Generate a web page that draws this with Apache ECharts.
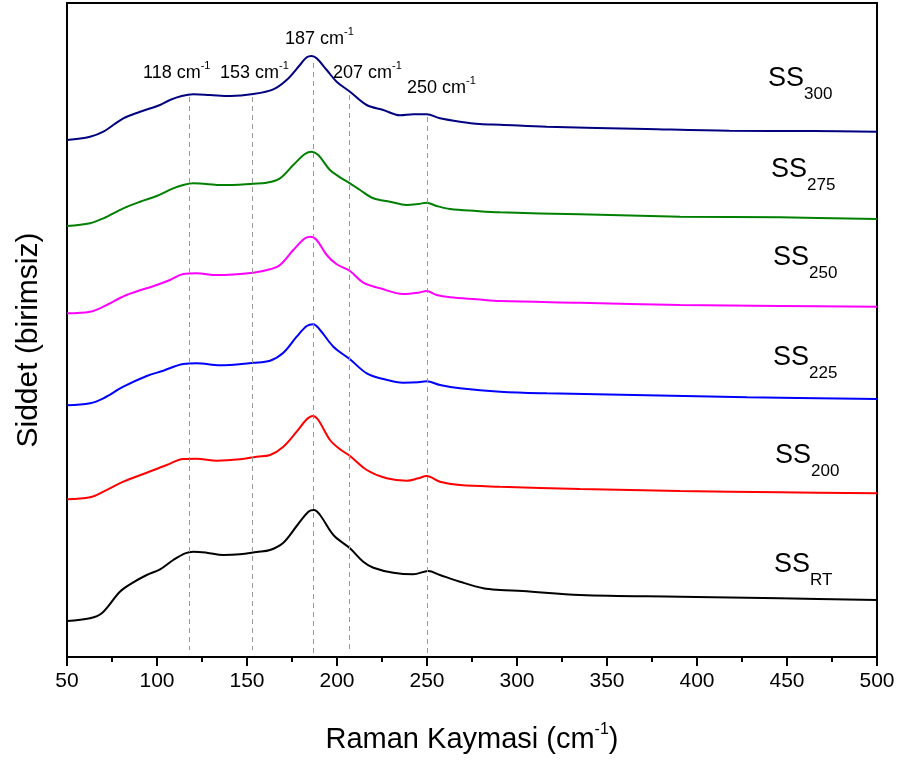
<!DOCTYPE html>
<html>
<head>
<meta charset="utf-8">
<title>Raman</title>
<script src="https://cdn.jsdelivr.net/npm/echarts@6/dist/echarts.min.js"></script>
<style>
  html, body { margin: 0; padding: 0; background: #fff; }
  #chart { width: 905px; height: 763px; }
</style>
</head>
<body>
<div id="chart"></div>
<script>
// Raman spectra, [wavenumber (cm-1), intensity (a.u., stacked offset)]
const ssRT = [[50,36],[62.8,38.7],[69.3,43.7],[79.4,65.3],[85.9,73.7],[94.3,82],[101.7,87.7],[109,97],[115.6,103.7],[120.2,105.3],[127.6,104.3],[136.8,102],[146.1,102.7],[155.4,105],[162.8,107],[170.2,114.3],[177.6,131],[184.1,145.3],[187.2,147],[190.6,142],[198,122],[207.2,108.7],[214.6,95.3],[220.2,89.3],[231.3,84.3],[242.4,82.7],[250.7,86],[257.2,82],[268.3,75.3],[281.3,68.7],[290.6,67],[303,66],[335,62],[390.6,60.3],[446,58.7],[500,57]];
const ss200 = [[50,157.7],[62.8,159.7],[70.2,165.3],[81.3,175.3],[94.3,184.3],[105.4,192],[114.6,198],[122,198.3],[133.2,196.3],[146.1,197.7],[155.4,200.3],[162.8,202],[170.2,210.3],[177.6,225.3],[183.2,237.7],[186.5,241],[189.6,237],[196.1,217],[201.7,207.7],[207.2,201],[216.5,187],[227.6,178.7],[238.7,176.3],[245.2,178.7],[249.8,181],[257.2,175.3],[268.3,172],[290.6,170.3],[335,168],[390.6,166],[446,164.7],[500,163.7]];
const ss225 = [[50,251.7],[62.8,253.7],[70.2,258.7],[81.3,270.3],[94.3,281],[103.5,286.3],[114.6,293],[122,293.7],[135,291.7],[153.5,294.3],[162.8,296.3],[170.2,304.3],[177.6,320.3],[183.2,331],[186.8,332.7],[190.6,327],[198,310.3],[207.2,297.7],[216.5,283.7],[225.7,278],[236.8,274.3],[245.2,274.7],[249.8,275.7],[257.2,272],[268.3,268.7],[290.6,265.3],[316.5,263.7],[372,261.7],[427.8,259.7],[500,258]];
const ss250 = [[50,343.7],[62.8,345.3],[70.2,350.3],[83.1,362],[99.8,372],[107.2,377],[114.6,383],[122,383.7],[133.2,382],[153.5,384.3],[162.8,387.7],[168.3,392],[175.7,407],[182.2,418.7],[185.4,420.3],[188.7,417],[194.3,402],[199.8,392.7],[207.2,386],[214.6,374.3],[223.9,368.7],[236.8,363],[245.2,364.3],[249.8,366],[255.4,362],[262.8,359.7],[277.6,357.7],[290.6,356],[335,354.3],[390.6,352],[446,351],[500,350.3]];
const ss275 = [[50,431],[62.8,433.7],[70.2,438.7],[81.3,448.7],[90.6,455.3],[99.8,461],[109,468.7],[114.6,472],[120.2,473.7],[136.8,472],[153.5,473.3],[161,474.3],[168.3,478.7],[175.7,492],[182.2,503],[185.9,505.3],[189.6,502],[196.1,487],[201.7,479.7],[207.2,473.7],[212.8,467],[220.2,458.7],[229.4,455.3],[238.7,452],[245.2,453],[249.8,454.3],[255.4,451],[262.8,448],[277.6,446],[290.6,444.7],[335,442.7],[390.6,440.3],[446,439.7],[500,438]];
const ss300 = [[50,517],[62.8,520.3],[70.2,525.3],[81.3,538.7],[90.6,545.3],[101.7,552],[107.2,557],[113.7,561],[120.2,562.7],[129.4,562],[140.6,561],[153.5,563],[164.6,567.7],[172,577],[179.4,592],[183.2,599.7],[185.9,601],[188.7,598.7],[194.3,587],[199.8,575.3],[207.2,565.3],[216.5,552],[225.7,547],[235,541.7],[242.4,542.7],[249.8,542.7],[257.2,538.7],[268.3,535.3],[279.4,533],[290.6,532.3],[316.5,530.3],[372,528],[418,526.3],[464.6,526],[500,525.3]];

// Band positions (cm-1) and the intensity span of each guide line
const peaks = [118, 153, 187, 207, 250];
const peakTop = [560, 560, 594, 562, 540];
const peakBottom = [7, 7, 0, 7, 0];

const sampleNames = ['SS300', 'SS275', 'SS250', 'SS225', 'SS200', 'SSRT'];
const sampleSubs = ['300', '275', '250', '225', '200', 'RT'];
const sampleData = [ss300, ss275, ss250, ss225, ss200, ssRT];
const sampleColors = ['#000080', '#008000', '#ff00ff', '#0000ff', '#ff0000', '#000000'];

const FONT = 'Liberation Sans';
const ctx = document.createElement('canvas').getContext('2d');
function textWidth(t, size) {
  ctx.font = size + 'px ' + FONT;
  return ctx.measureText(t).width;
}
// Lays out text pieces (with sub/superscripts) left to right starting at x
function textRun(x, y, parts, center) {
  let total = 0;
  parts.forEach(p => { total += textWidth(p.t, p.size); });
  let cx = center ? x - total / 2 : x;
  const children = [];
  parts.forEach(p => {
    children.push({
      type: 'text', x: cx, y: y + (p.dy || 0), silent: true,
      style: { text: p.t, fontSize: p.size, fontFamily: FONT, fill: '#000', align: 'left', verticalAlign: 'middle' }
    });
    cx += textWidth(p.t, p.size);
  });
  return { type: 'group', children: children };
}

const chart = echarts.init(document.getElementById('chart'), null, { renderer: 'canvas' });

const series = sampleData.map((d, i) => ({
  name: sampleNames[i],
  type: 'line',
  data: d,
  smooth: 0.35,
  symbol: 'none',
  lineStyle: { color: sampleColors[i], width: 2 },
  z: 3
}));

series.push({
  type: 'line',
  data: [],
  symbol: 'none',
  markLine: {
    silent: true,
    symbol: ['none', 'none'],
    label: { show: false },
    lineStyle: { color: '#999', width: 1, type: [5, 4] },
    data: peaks.map((p, i) => [{ coord: [p, peakTop[i]] }, { coord: [p, peakBottom[i]] }])
  },
  z: 2
});

// Sample tags at the right side
const tagPos = [[768, 79], [771, 170], [773, 258], [773, 358], [775, 456], [774, 565]];
// Band labels above the top spectrum
const peakLabelPos = [[143, 73], [220, 73], [285, 39], [333, 73], [407, 88]];

const graphics = [];
sampleSubs.forEach((s, i) => {
  graphics.push(textRun(tagPos[i][0], tagPos[i][1], [
    { t: 'SS', size: 27 },
    { t: s, size: 17, dy: 15 }
  ]));
});
peaks.forEach((p, i) => {
  graphics.push(textRun(peakLabelPos[i][0], peakLabelPos[i][1], [
    { t: p + ' cm', size: 18 },
    { t: '-1', size: 11, dy: -7 }
  ]));
});
graphics.push(textRun(472, 740, [
  { t: 'Raman Kaymasi (cm', size: 29 },
  { t: '-1', size: 16, dy: -10 },
  { t: ')', size: 29 }
], true));
// Vertical axis title
graphics.push({
  type: 'text', x: 29, y: 340, rotation: Math.PI / 2, silent: true,
  style: { text: 'Siddet (birimsiz)', fontSize: 30, fontFamily: FONT, fill: '#000', align: 'center', verticalAlign: 'middle' }
});

chart.setOption({
  animation: false,
  backgroundColor: '#fff',
  grid: { left: 67, right: 28, top: 3, bottom: 106, show: true, borderColor: '#000', borderWidth: 2 },
  xAxis: {
    type: 'value', min: 50, max: 500, interval: 50,
    axisLine: { show: true, lineStyle: { color: '#000', width: 2 } },
    axisTick: { show: true, inside: false, length: 9, lineStyle: { color: '#000', width: 2 } },
    minorTick: { show: true, splitNumber: 2, length: 5, lineStyle: { color: '#000', width: 2 } },
    splitLine: { show: false },
    axisLabel: { color: '#000', fontSize: 21, fontFamily: FONT, margin: 14 }
  },
  yAxis: {
    type: 'value', min: 0, max: 654,
    axisLine: { show: true, lineStyle: { color: '#000', width: 2 } },
    axisTick: { show: false },
    axisLabel: { show: false },
    splitLine: { show: false }
  },
  series: series,
  graphic: graphics
});
</script>
</body>
</html>
